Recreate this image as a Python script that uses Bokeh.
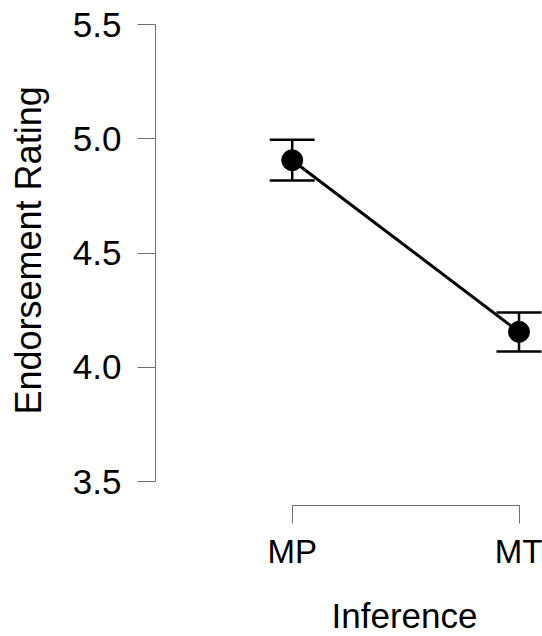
from bokeh.plotting import figure
from bokeh.models import ColumnDataSource, FixedTicker, Whisker, TeeHead, Range1d, Title
from bokeh.embed import file_html
from bokeh.resources import INLINE

# ---- data ----
inference = ["MP", "MT"]
x_pos = [0, 1]
mean_rating = [4.906, 4.155]
ci_lower = [4.817, 4.069]
ci_upper = [4.996, 4.240]
y_ticks = [3.5, 4.0, 4.5, 5.0, 5.5]
y_tick_labels = ["3.5", "4.0", "4.5", "5.0", "5.5"]
x_title = "Inference"
y_title = "Endorsement Rating"

src = ColumnDataSource(dict(x=x_pos, y=mean_rating, lower=ci_lower, upper=ci_upper))

FONT = "Liberation Sans"
AXIS_COL = "#707070"

p = figure(width=542, height=636, output_backend="svg", toolbar_location=None,
           x_range=Range1d(-0.6027, 1.1036), y_range=Range1d(3.395, 5.5),
           min_border_left=155, min_border_right=0, min_border_top=24, min_border_bottom=130)
p.outline_line_color = None
p.xgrid.visible = False
p.ygrid.visible = False
p.background_fill_color = "white"

# error bars
wh = Whisker(base="x", lower="lower", upper="upper", source=src, level="underlay",
             line_color="black", line_width=2.5,
             upper_head=TeeHead(size=45, line_color="black", line_width=2.5),
             lower_head=TeeHead(size=45, line_color="black", line_width=2.5))
p.add_layout(wh)

p.line("x", "y", source=src, line_color="black", line_width=3)
p.scatter("x", "y", source=src, size=21, fill_color="black", line_color="black")

# axes
for ax in (p.xaxis[0], p.yaxis[0]):
    ax.axis_line_color = AXIS_COL
    ax.axis_line_width = 1
    ax.major_tick_line_color = AXIS_COL
    ax.major_tick_line_width = 1
    ax.major_tick_in = 0
    ax.major_tick_out = 18
    ax.minor_tick_line_color = None
    ax.major_label_text_font = FONT
    ax.major_label_text_color = "black"
    # blank spacer label: pushes the axis title further out
    ax.axis_label = " "
    ax.axis_label_text_font_size = "1px"

xa = p.xaxis[0]
xa.ticker = FixedTicker(ticks=x_pos)
xa.major_label_overrides = {x: lab for x, lab in zip(x_pos, inference)}
xa.bounds = (x_pos[0], x_pos[-1])
xa.major_label_text_font_size = "33px"
xa.major_label_standoff = 9
xa.axis_label_standoff = 19

ya = p.yaxis[0]
ya.ticker = FixedTicker(ticks=y_ticks)
ya.major_label_overrides = {t: lab for t, lab in zip(y_ticks, y_tick_labels)}
ya.bounds = (y_ticks[0], y_ticks[-1])
ya.major_label_text_font_size = "35px"
ya.major_label_standoff = 16
ya.axis_label_standoff = 17

# axis titles as side-panel titles (offset along the axis)
p.add_layout(Title(text=x_title, align="left", offset=176, vertical_align="top",
                   standoff=0, text_font=FONT, text_font_size="35px",
                   text_font_style="normal", text_color="black"), "below")
p.add_layout(Title(text=y_title, align="left", offset=91, vertical_align="bottom",
                   standoff=0, text_font=FONT, text_font_size="36px",
                   text_font_style="normal", text_color="black"), "left")

open("out.html", "w").write(file_html(p, INLINE))
